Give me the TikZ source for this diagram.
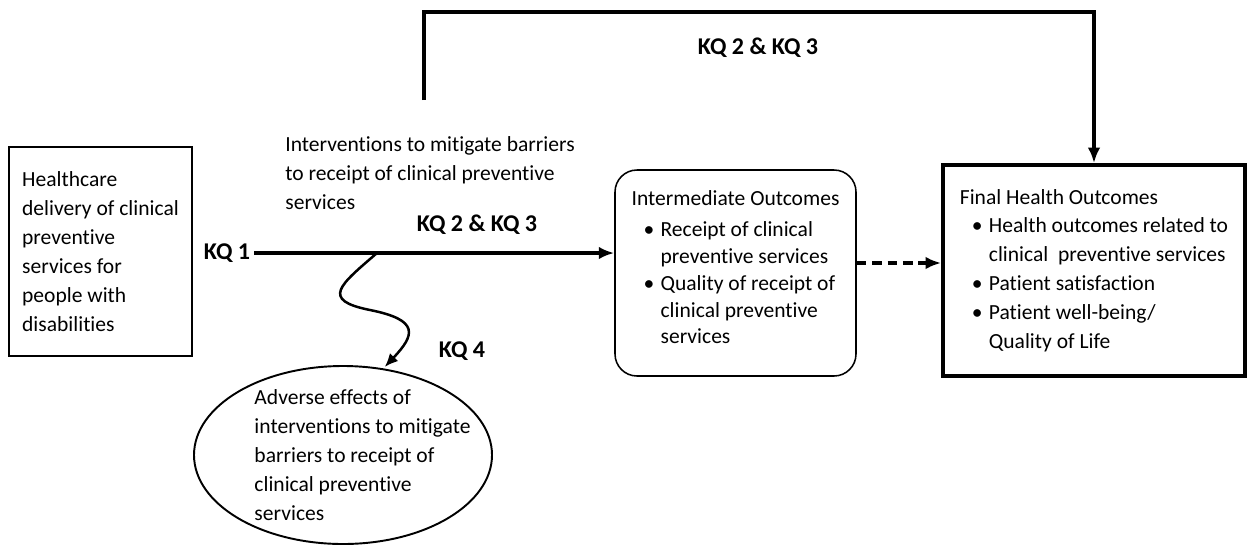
\documentclass[tikz,border=0pt]{standalone}
\usepackage{fontspec}
\setmainfont{Carlito}[Ligatures=NoCommon]
\usetikzlibrary{arrows.meta,shapes.geometric}
\newdimen\pxu \pxu=0.52pt
\newcommand{\bulitem}{\hspace*{12\pxu}\makebox[17\pxu][l]{\textbullet}}
\newcommand{\bulind}{\hspace*{29\pxu}}
\newcommand{\elind}{\hspace*{39\pxu}}
\tikzset{%
  % Specifications for style of arrows:
   keyarrow/.style={
           -{Latex[length=8pt,width=6.5pt]},
           line width=1.8pt},
   bracket/.style={
           keyarrow,
           line width=2pt},
   harmarrow/.style={
           -{Latex[length=7pt,width=6pt]},
           line width=1.3pt,
           shorten >=1pt},
   outcomearrow/.style={
           keyarrow,
           dash pattern=on 5pt off 3pt},
  % Specifications for style of nodes:
   base/.style = {rectangle, draw=black, line width=0.8pt,
                  align=left, inner sep=0pt},
   delivery/.style = {base, minimum width=183*\pxu, minimum height=209*\pxu},
   intermediate/.style = {base, rounded corners=22*\pxu,
                  minimum width=241*\pxu, minimum height=206*\pxu},
   final/.style = {base, line width=2pt,
                  minimum width=302*\pxu, minimum height=211*\pxu},
   harms/.style = {ellipse, draw=black, line width=1pt, align=left,
                  inner sep=-30*\pxu,
                  minimum width=298*\pxu, minimum height=178*\pxu},
   kqlabel/.style = {font=\fontsize{12.5}{15}\selectfont\bfseries, inner sep=2pt},
}
\begin{document}
\begin{tikzpicture}[x=\pxu, y=-\pxu,
    every node/.style={font=\fontsize{11.2}{15}\selectfont}]
  \useasboundingbox (0,0) rectangle (1247,548);

  % Boxes (position at pixel coordinates)
  \node (deliv) [delivery] at (100.5,251.5)
        {Healthcare\\delivery of clinical\\preventive\\services for\\people with\\disabilities};
  \node (mid) [intermediate, font=\fontsize{11.2}{14}\selectfont, text depth=6pt] at (735.5,273)
        {Intermediate Outcomes\\[2pt]
         \bulitem Receipt of clinical\\
         \bulind preventive services\\
         \bulitem Quality of receipt of\\
         \bulind clinical preventive\\
         \bulind services};
  \node (final) [final] at (1094,270.5)
        {Final Health Outcomes\\
         \bulitem Health outcomes related to\\
         \bulind clinical\ \ preventive services\\
         \bulitem Patient satisfaction\\
         \bulitem Patient well-being/\\
         \bulind Quality of Life};
  \node (adverse) [harms] at (343,455)
        {\elind Adverse effects of\\
         \elind interventions to mitigate\\
         \elind barriers to receipt of\\
         \elind clinical preventive\\
         \elind services};
  \node (interv) [anchor=west, align=left, inner sep=0pt] at (285,173)
        {Interventions to mitigate barriers\\to receipt of clinical preventive\\services};

  % Key question labels
  \node (kq1)   [kqlabel] at (227,253) {KQ 1};
  \node (kqmid) [kqlabel] at (477,225) {KQ 2 \& KQ 3};
  \node (kqtop) [kqlabel] at (758,48)  {KQ 2 \& KQ 3};
  \node (kq4)   [kqlabel] at (462,351) {KQ 4};

  \coordinate (wavestart)     at (377,253);
  \coordinate (bracketfoot)   at (424,100);
  \coordinate (bracketcorner) at (424,12);

  % Connectors
  \draw[keyarrow]     (kq1.east) -- (kq1.east -| mid.west);
  \draw[bracket]      (bracketfoot) -- (bracketcorner) -| (final.north);
  \draw[outcomearrow] ([yshift=10*\pxu]mid.east) -- ([yshift=10*\pxu]mid.east -| final.west);
  \draw[harmarrow]    (wavestart) .. controls (340,285) and (320,300) .. (370,310)
                      .. controls (420,320) and (415,335) .. (adverse.65);

\end{tikzpicture}
\end{document}
